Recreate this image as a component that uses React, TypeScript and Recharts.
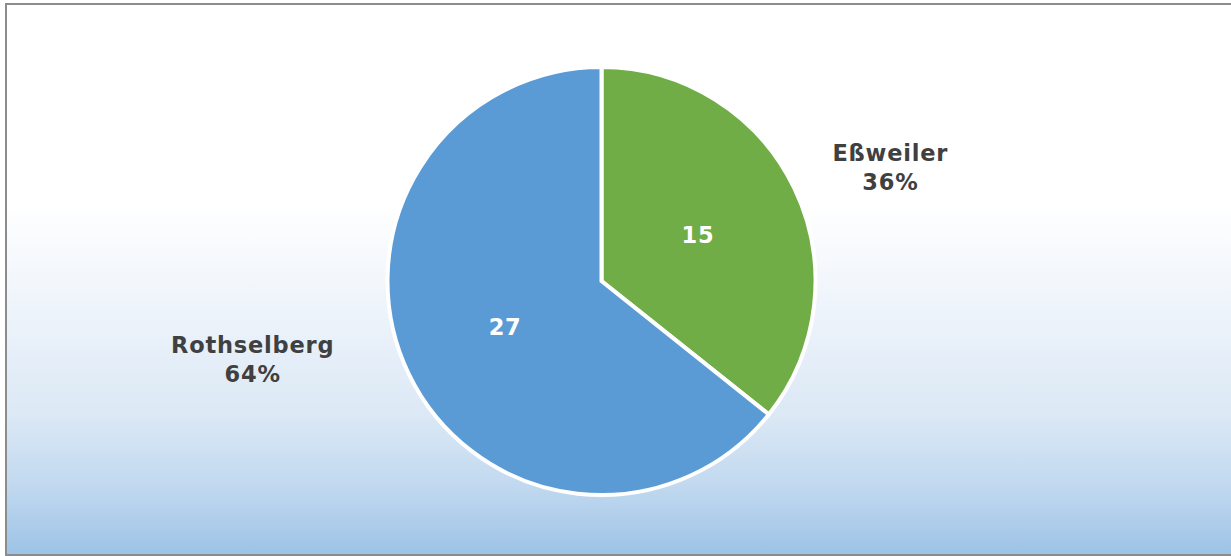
import React from 'react';
import { PieChart, Pie, Cell } from 'recharts';

const towns = ['Eßweiler', 'Rothselberg'];
const counts = [15, 27];
const sliceColors = ['#70AD47', '#5B9BD5'];

// nudges for the outside category/percent labels (Excel best-fit placement)
const labelNudge = [
  { dx: 60, dy: -7 },
  { dx: -120, dy: -35 },
];

const RADIAN = Math.PI / 180;
const FONT = '"DejaVu Sans", Verdana, sans-serif';

const data = towns.map((name, i) => ({ name, value: counts[i] }));
const total = counts.reduce((a, b) => a + b, 0);

const renderLabels = (props: any) => {
  const { cx, cy, midAngle, outerRadius, index, value, name } = props;
  const cos = Math.cos(-midAngle * RADIAN);
  const sin = Math.sin(-midAngle * RADIAN);
  const ix = cx + outerRadius * 0.5 * cos;
  const iy = cy + outerRadius * 0.5 * sin;
  const ox = cx + (outerRadius + 40) * cos + labelNudge[index].dx;
  const oy = cy + (outerRadius + 40) * sin + labelNudge[index].dy;
  const pct = Math.round((value / total) * 100);
  return (
    <g>
      <text x={ix} y={iy} dy={8} fill="#ffffff" textAnchor="middle" fontFamily={FONT} fontWeight="bold" fontSize={22.5} letterSpacing={0.8}>
        {value}
      </text>
      <text x={ox} y={oy} fill="#404040" textAnchor="middle" fontFamily={FONT} fontWeight="bold" fontSize={22.5} letterSpacing={0.8}>
        <tspan x={ox} dy={-3}>{name}</tspan>
        <tspan x={ox} dy={29}>{pct}%</tspan>
      </text>
    </g>
  );
};

export default function App() {
  return (
    <div style={{ position: 'absolute', left: 0, top: 0, width: 1231, height: 556, background: '#fff', overflow: 'hidden' }}>
      <div
        style={{
          position: 'absolute',
          left: 5,
          top: 3,
          width: 1240,
          height: 553,
          boxSizing: 'border-box',
          border: '2px solid #8c8c8c',
          background: 'linear-gradient(to bottom, #ffffff 0%, #ffffff 36%, #eef4fb 55%, #dbe8f5 75%, #c0d8ef 88%, #9dc3e6 100%)',
        }}
      />
      <div style={{ position: 'absolute', left: 0, top: 0 }}>
        <PieChart width={1231} height={556} margin={{ top: 0, right: 0, bottom: 0, left: 0 }}>
          <Pie
            data={data}
            dataKey="value"
            nameKey="name"
            cx={601.5}
            cy={281}
            outerRadius={214}
            startAngle={90}
            endAngle={-270}
            stroke="#ffffff"
            strokeWidth={4}
            label={renderLabels}
            labelLine={false}
            isAnimationActive={false}
          >
            {data.map((_, i) => (
              <Cell key={`cell-${i}`} fill={sliceColors[i]} />
            ))}
          </Pie>
        </PieChart>
      </div>
    </div>
  );
}
